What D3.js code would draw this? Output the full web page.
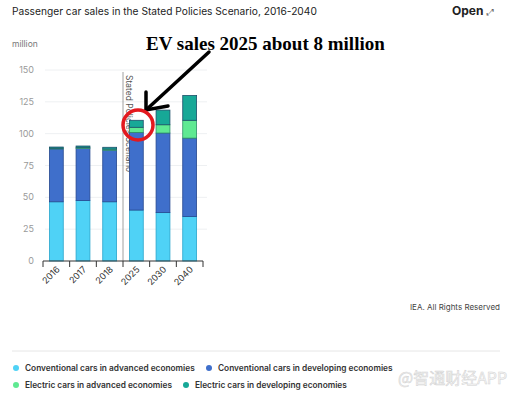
<!DOCTYPE html>
<html>
<head>
<meta charset="utf-8">
<script src="https://cdn.jsdelivr.net/npm/d3@7"></script>
<style>
  body { margin: 0; background: #fff; }
  svg { display: block; font-family: Inter, "Noto Sans", sans-serif; }
</style>
</head>
<body>
<div id="chart"></div>
<script>
// data (million cars)
const years = ['2016', '2017', '2018', '2025', '2030', '2040']
const convAdvanced = [46.5, 47.5, 46.5, 40, 38, 35]
const convDeveloping = [41.5, 41, 40.5, 61, 62.5, 61.5]
const elecAdvanced = [0.6, 0.8, 0.9, 4, 6.5, 14]
const elecDeveloping = [0.9, 1.0, 1.4, 5.5, 11.5, 19.5]
const seriesNames = [
  'Conventional cars in advanced economies',
  'Conventional cars in developing economies',
  'Electric cars in advanced economies',
  'Electric cars in developing economies'
]
const colors = ['#4fd2f6', '#3f6fcb', '#5fe992', '#17a897']
const strokes = ['#2aa6cc', '#26488f', '#2f8f68', '#1c4f6a']
const yTicks = [0, 25, 50, 75, 100, 125, 150]

const W = 517, H = 395
const svg = d3.select('#chart').append('svg').attr('width', W).attr('height', H)

// header
svg.append('text').attr('x', 12).attr('y', 15)
  .attr('font-size', 10.2).attr('fill', '#222')
  .text('Passenger car sales in the Stated Policies Scenario, 2016-2040')
svg.append('text').attr('x', 452).attr('y', 15)
  .attr('font-size', 12).attr('font-weight', 700).attr('fill', '#222')
  .text('Open')
svg.append('text').attr('x', 487).attr('y', 15)
  .attr('font-size', 9).attr('fill', '#666').text('⤢')
svg.append('text').attr('x', 12).attr('y', 47)
  .attr('font-size', 8.5).attr('fill', '#777').text('million')

const x = d3.scaleBand().domain(years).range([43, 203]).paddingInner(0.48).paddingOuter(0.24)
const y = d3.scaleLinear().domain([0, 150]).range([261, 70])

// gridlines
svg.append('g').selectAll('line').data(yTicks.slice(1)).join('line')
  .attr('x1', 45).attr('x2', 207)
  .attr('y1', d => y(d)).attr('y2', d => y(d))
  .attr('stroke', '#eef0f2').attr('stroke-width', 1)

// y labels
svg.append('g').selectAll('text').data(yTicks).join('text')
  .attr('x', 34).attr('y', d => y(d) + 3)
  .attr('text-anchor', 'end').attr('font-size', 9).attr('fill', '#9a9a9a')
  .text(d => d)

// scenario divider
const divX = 123
svg.append('line').attr('x1', divX).attr('x2', divX).attr('y1', 72).attr('y2', 261)
  .attr('stroke', '#888').attr('stroke-width', 0.8)
svg.append('text')
  .attr('transform', `translate(${divX + 3},75) rotate(90)`)
  .attr('font-size', 8.5).attr('fill', '#555')
  .text('Stated Policies Scenario')

// stacked bars
const rows = years.map((yr, i) => ({
  year: yr,
  s0: convAdvanced[i], s1: convDeveloping[i], s2: elecAdvanced[i], s3: elecDeveloping[i]
}))
const stack = d3.stack().keys(['s0', 's1', 's2', 's3'])(rows)

svg.append('g').selectAll('g').data(stack).join('g')
  .attr('fill', (d, i) => colors[i])
  .attr('stroke', (d, i) => strokes[i])
  .attr('stroke-width', 0.8)
  .selectAll('rect').data(d => d).join('rect')
  .attr('x', d => x(d.data.year))
  .attr('width', x.bandwidth())
  .attr('y', d => y(d[1]))
  .attr('height', d => y(d[0]) - y(d[1]))

// x axis
const xa = svg.append('g')
xa.append('line').attr('x1', 43).attr('x2', 203).attr('y1', 261).attr('y2', 261)
  .attr('stroke', '#333').attr('stroke-width', 1)
const edges = years.map(d => x(d) - x.step() * x.paddingInner() / 2)
edges.push(203)
xa.selectAll('line.tick').data(edges).join('line').attr('class', 'tick')
  .attr('x1', d => d).attr('x2', d => d).attr('y1', 261).attr('y2', 267)
  .attr('stroke', '#333')
xa.selectAll('text').data(years).join('text')
  .attr('transform', d => `translate(${x(d) + x.bandwidth() / 2 + 4},${270}) rotate(-45)`)
  .attr('text-anchor', 'end').attr('font-size', 9).attr('fill', '#333')
  .text(d => d)

// credit
svg.append('text').attr('x', 500).attr('y', 310).attr('text-anchor', 'end')
  .attr('font-size', 8).attr('fill', '#444').text('IEA. All Rights Reserved')

// legend
svg.append('line').attr('x1', 12).attr('x2', 500).attr('y1', 351).attr('y2', 351)
  .attr('stroke', '#e6e6e6')
const legendPos = [[16, 368], [209, 368], [16, 385], [186, 385]]
const lg = svg.append('g').selectAll('g').data(seriesNames).join('g')
  .attr('transform', (d, i) => `translate(${legendPos[i][0]},${legendPos[i][1]})`)
lg.append('circle').attr('r', 3).attr('fill', (d, i) => colors[i])
lg.append('text').attr('x', 9).attr('y', 3)
  .attr('font-size', 8.3).attr('font-weight', 600).attr('fill', '#333')
  .text(d => d)

// watermark
svg.append('text').attr('x', 398).attr('y', 384)
  .attr('font-size', 16).attr('fill', '#f7f7f7').attr('stroke', '#d2d2d2').attr('stroke-width', 0.5)
  .attr('font-family', '"Noto Sans CJK SC", sans-serif')
  .text('@智通财经APP')

// hand-drawn annotation
svg.append('text').attr('x', 146).attr('y', 50)
  .attr('font-family', '"Liberation Serif", "DejaVu Serif", serif')
  .attr('font-size', 19).attr('font-weight', 700).attr('fill', '#000')
  .text('EV sales 2025 about 8 million')
const ann = svg.append('g').attr('stroke', '#000').attr('stroke-width', 3.5)
  .attr('fill', 'none').attr('stroke-linecap', 'round')
ann.append('line').attr('x1', 209).attr('y1', 52).attr('x2', 146).attr('y2', 110)
ann.append('polyline').attr('points', '146,92 146,110 168,106')
svg.append('ellipse').attr('cx', 138).attr('cy', 125).attr('rx', 15).attr('ry', 15)
  .attr('fill', 'none').attr('stroke', '#e3191f').attr('stroke-width', 3.5)
</script>
</body>
</html>
